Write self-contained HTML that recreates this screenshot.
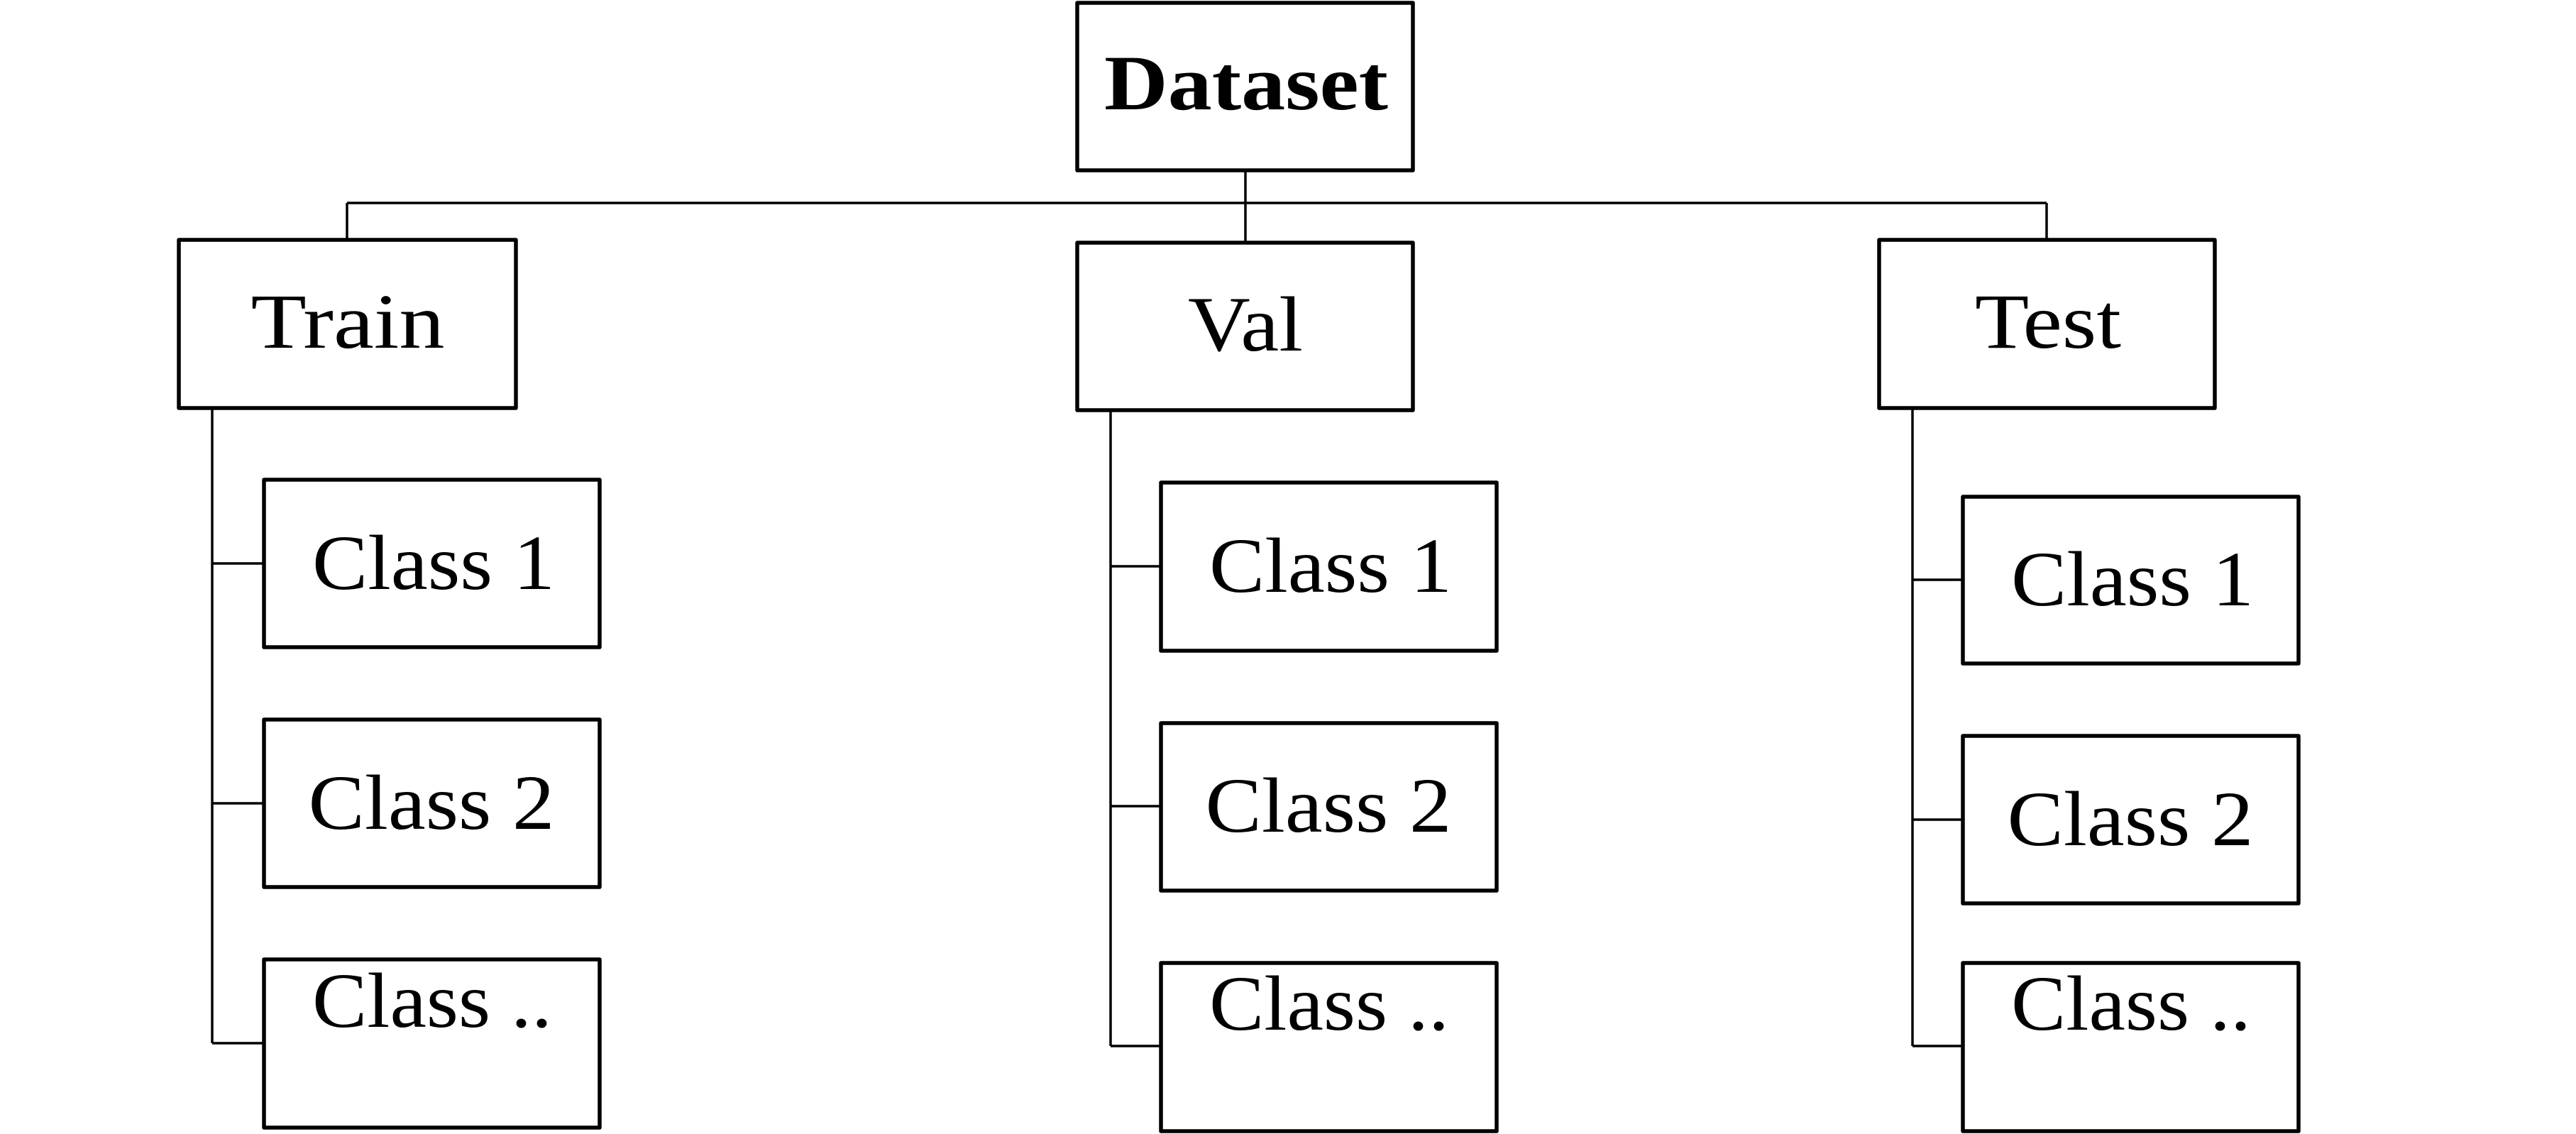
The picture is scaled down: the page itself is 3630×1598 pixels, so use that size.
<!DOCTYPE html>
<html><head><meta charset="utf-8"><style>html,body{margin:0;padding:0;background:#fff}svg{display:block}</style></head>
<body>
<svg width="3630" height="1598" viewBox="0 0 3630 1598" xmlns="http://www.w3.org/2000/svg">
<g fill="none" stroke="#000" stroke-width="3.5">
<path d="M1755 241V286M489 286H2884M489 286V336M1755 286V340M2884 286V336"/>
<path d="M299 577V1470M299 794H370M299 1132H370M299 1470H370"/>
<path d="M1565 580V1474M1565 798H1634M1565 1136H1634M1565 1474H1634"/>
<path d="M2695 577V1474M2695 817H2764M2695 1155H2764M2695 1474H2764"/>
</g>
<g fill="#fff" stroke="#000" stroke-width="5.5" stroke-linejoin="round">
<rect x="1518" y="4" width="473" height="236"/>
<rect x="252" y="338" width="475" height="237"/>
<rect x="1518" y="342" width="473" height="236"/>
<rect x="2648" y="338" width="473" height="237"/>
<rect x="372" y="676" width="473" height="236"/>
<rect x="372" y="1014" width="473" height="236"/>
<rect x="372" y="1352" width="473" height="237"/>
<rect x="1636" y="680" width="473" height="237"/>
<rect x="1636" y="1019" width="473" height="236"/>
<rect x="1636" y="1357" width="473" height="237"/>
<rect x="2766" y="700" width="473" height="235"/>
<rect x="2766" y="1037" width="473" height="236"/>
<rect x="2766" y="1357" width="473" height="237"/>
</g>
<g font-family="'Liberation Serif', serif" font-size="110" fill="#000" text-anchor="middle">
<text x="1756" y="154" font-weight="bold" textLength="400" lengthAdjust="spacingAndGlyphs">Dataset</text>
<text x="490" y="490" textLength="273" lengthAdjust="spacingAndGlyphs">Train</text>
<text x="1755" y="494" textLength="162" lengthAdjust="spacingAndGlyphs">Val</text>
<text x="2886" y="490" textLength="206" lengthAdjust="spacingAndGlyphs">Test</text>
<text x="611" y="830" textLength="342" lengthAdjust="spacingAndGlyphs">Class 1</text>
<text x="608" y="1168" textLength="347" lengthAdjust="spacingAndGlyphs">Class 2</text>
<text x="609" y="1447" textLength="338" lengthAdjust="spacingAndGlyphs">Class ..</text>
<text x="1875" y="834" textLength="342" lengthAdjust="spacingAndGlyphs">Class 1</text>
<text x="1872" y="1172" textLength="347" lengthAdjust="spacingAndGlyphs">Class 2</text>
<text x="1873" y="1451" textLength="338" lengthAdjust="spacingAndGlyphs">Class ..</text>
<text x="3005" y="853" textLength="342" lengthAdjust="spacingAndGlyphs">Class 1</text>
<text x="3002" y="1191" textLength="347" lengthAdjust="spacingAndGlyphs">Class 2</text>
<text x="3003" y="1451" textLength="338" lengthAdjust="spacingAndGlyphs">Class ..</text>
</g>
</svg>
</body></html>
